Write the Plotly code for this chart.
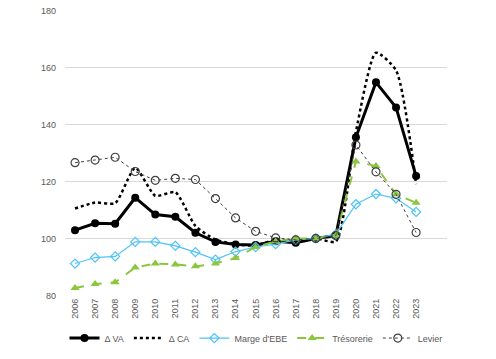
import plotly.graph_objects as go

years = list(range(2006, 2024))
delta_va = [102.9, 105.3, 105.2, 114.3, 108.4, 107.6, 102.0, 98.8, 97.9, 97.7, 99.0, 98.5, 100.0, 101.0, 135.5, 154.8, 146.0, 121.9]
delta_ca = [110.5, 112.6, 112.4, 124.8, 115.0, 116.2, 104.4, 99.6, 98.0, 97.5, 99.5, 99.0, 100.0, 99.0, 137.5, 165.2, 159.0, 119.1]
marge_ebe = [91.2, 93.3, 93.7, 98.8, 98.8, 97.4, 95.2, 92.6, 95.4, 97.0, 98.0, 99.5, 100.0, 101.5, 112.0, 115.6, 114.1, 109.3]
tresorerie = [82.6, 84.0, 84.6, 89.8, 91.2, 90.9, 90.2, 91.2, 93.1, 97.0, 99.0, 100.0, 100.0, 101.0, 127.0, 125.4, 115.5, 112.5]
levier = [126.6, 127.5, 128.5, 123.5, 120.4, 121.1, 120.7, 114.0, 107.2, 102.5, 100.2, 99.5, 100.0, 101.0, 132.8, 123.4, 115.5, 102.1]
y_ticks = [80, 100, 120, 140, 160, 180]

fig = go.Figure()
fig.add_trace(go.Scatter(x=years, y=delta_va, name="Δ VA", mode="lines+markers",
                         line=dict(color="black", width=3),
                         marker=dict(symbol="circle", size=8, color="black")))
fig.add_trace(go.Scatter(x=years, y=delta_ca, name="Δ CA", mode="lines",
                         line=dict(color="black", width=2.5, dash="dot", shape="spline", smoothing=0.6)))
fig.add_trace(go.Scatter(x=years, y=marge_ebe, name="Marge d'EBE", mode="lines+markers",
                         line=dict(color="#4fc3f7", width=1.2),
                         marker=dict(symbol="diamond-open", size=7, color="#4fc3f7", line=dict(width=1.2))))
fig.add_trace(go.Scatter(x=years, y=tresorerie, name="Trésorerie", mode="lines+markers",
                         line=dict(color="#8cc63f", width=2, dash="dash"),
                         marker=dict(symbol="triangle-up", size=8, color="#8cc63f")))
fig.add_trace(go.Scatter(x=years, y=levier, name="Levier", mode="lines+markers",
                         line=dict(color="#404040", width=1, dash="dot"),
                         marker=dict(symbol="circle-open", size=8, color="#404040", line=dict(width=1.2))))

fig.update_layout(
    width=496, height=359,
    margin=dict(l=65, r=49, t=10, b=63, autoexpand=False),
    paper_bgcolor="white", plot_bgcolor="white",
    font=dict(family="Liberation Sans", size=9, color="#595959"),
    showlegend=True,
    legend=dict(orientation="h", x=0.5, xanchor="center", y=-0.147, yanchor="middle",
                font=dict(size=9, color="#595959"), itemwidth=30, tracegroupgap=0),
)
fig.update_xaxes(range=[2005.5, 2024.54], tickmode="array", tickvals=years,
                 ticktext=[str(y) for y in years], tickangle=-90, showgrid=False,
                 zeroline=False, showline=False, ticks="", automargin=False)
fig.update_yaxes(range=[79.8, 180.2], tickmode="array", tickvals=y_ticks, showgrid=True,
                 gridcolor="#d9d9d9", gridwidth=1, zeroline=False, showline=False, ticks="",
                 ticklabelstandoff=8, automargin=False)
fig.write_html("out.html", config={"displayModeBar": False},
               post_script="document.body.style.margin='0';")
